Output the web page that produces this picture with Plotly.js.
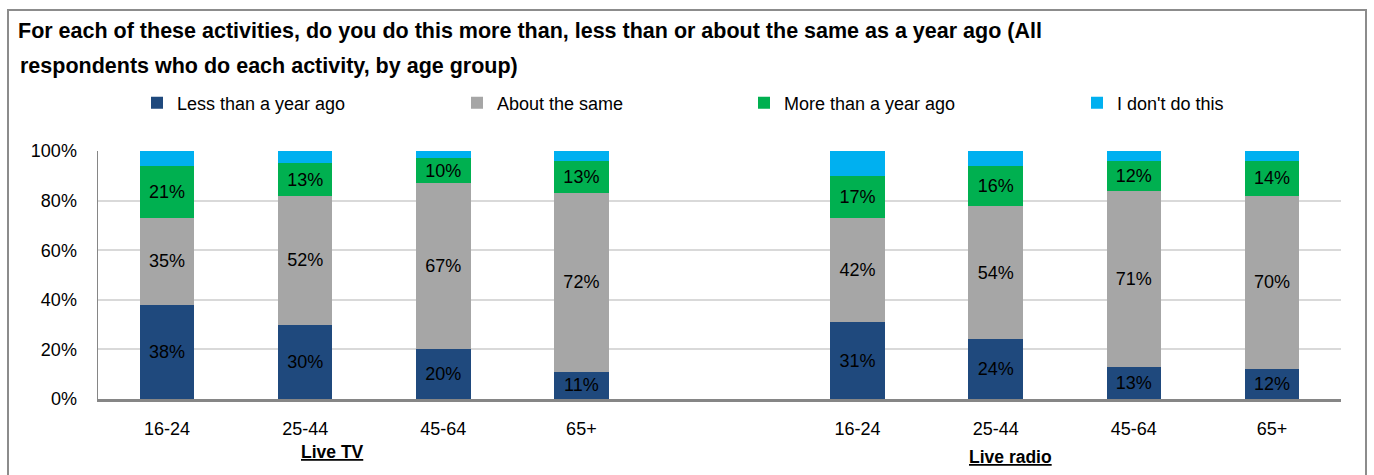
<!DOCTYPE html>
<html>
<head>
<meta charset="utf-8">
<script src="https://cdn.plot.ly/plotly-3.0.1.min.js"></script>
<style>
  html, body { margin: 0; padding: 0; background: #ffffff; }
  #chart { width: 1374px; height: 475px; }
</style>
</head>
<body>
<div id="chart"></div>
<script>
// ---- Data ----
const groups = ["Live TV", "Live radio"];
const ageGroups = ["16-24", "25-44", "45-64", "65+"];
const seriesNames = ["Less than a year ago", "About the same", "More than a year ago", "I don't do this"];
// values in %, order: Live TV (16-24, 25-44, 45-64, 65+), Live radio (16-24, 25-44, 45-64, 65+)
const lessThan   = [38, 30, 20, 11, 31, 24, 13, 12];
const aboutSame  = [35, 52, 67, 72, 42, 54, 71, 70];
const moreThan   = [21, 13, 10, 13, 17, 16, 12, 14];
const dontDoThis = [ 6,  5,  3,  4, 10,  6,  4,  4];
const yTickVals  = [0, 20, 40, 60, 80, 100];

const seriesValues = [lessThan, aboutSame, moreThan, dontDoThis];
const seriesColors = ["#1F497D", "#A6A6A6", "#00B050", "#00B0F0"];
const showLabels = [true, true, true, false];

// slot index: groups separated by one empty slot
const slotsPerGroup = ageGroups.length + 1;
const xPos = [], tickText = [];
groups.forEach((g, gi) => ageGroups.forEach((a, ai) => {
  xPos.push(gi * slotsPerGroup + ai);
  tickText.push(a);
}));

const FONT = "Liberation Sans, Arial, sans-serif";

const traces = seriesNames.map((name, i) => ({
  type: "bar",
  name: name,
  x: xPos,
  y: seriesValues[i],
  marker: { color: seriesColors[i], line: { width: 0 } },
  text: showLabels[i] ? seriesValues[i].map(v => v + "%") : null,
  texttemplate: showLabels[i] ? "%{text}" : "",
  textposition: showLabels[i] ? "inside" : "none",
  insidetextanchor: "middle",
  textangle: 0,
  constraintext: "none",
  textfont: { family: FONT, size: 18, color: "#000000" },
  hoverinfo: "name+y",
  legend: i === 0 ? "legend" : "legend" + (i + 1)
}));

// plot area in pixels: x 98..1341, y 151..399
const W = 1374, H = 475;
const L = 98, R = 1341, T = 151, B = 399;
const pw = R - L, ph = B - T;
const px2x = p => (p - L) / pw;
const px2y = p => (B - p) / ph;

const legendTextStarts = [173, 493, 780, 1113];
const legendCommon = (i) => ({
  orientation: "h",
  x: px2x(legendTextStarts[i] - 36),
  xanchor: "left",
  y: px2y(103),
  yanchor: "middle",
  font: { family: FONT, size: 18, color: "#000000" },
  bgcolor: "rgba(0,0,0,0)",
  borderwidth: 0,
  itemwidth: 30,
  itemclick: false,
  itemdoubleclick: false
});

const layout = {
  width: W,
  height: H,
  margin: { l: L, r: W - R, t: T, b: H - B, pad: 0 },
  paper_bgcolor: "#ffffff",
  plot_bgcolor: "#ffffff",
  font: { family: FONT, size: 18, color: "#000000" },
  barmode: "stack",
  bargap: 0.605,
  title: {
    text: "<b>For each of these activities, do you do this more than, less than or about the same as a year ago (All</b>",
    font: { family: FONT, size: 21.5, color: "#000000" },
    xref: "container", yref: "container",
    x: 18 / W, xanchor: "left",
    y: 1 - 30 / H, yanchor: "middle"
  },
  showlegend: true,
  legend: legendCommon(0),
  legend2: legendCommon(1),
  legend3: legendCommon(2),
  legend4: legendCommon(3),
  xaxis: {
    type: "linear",
    range: [-0.5, groups.length * slotsPerGroup - 1.5],
    tickmode: "array",
    tickvals: xPos,
    ticktext: tickText,
    ticks: "",
    ticklabelstandoff: 12,
    tickfont: { family: FONT, size: 18, color: "#000000" },
    showgrid: false,
    zeroline: false,
    showline: true,
    linecolor: "#868686",
    linewidth: 2.5,
    fixedrange: true
  },
  yaxis: {
    range: [0, 100],
    tickmode: "array",
    tickvals: yTickVals,
    ticktext: yTickVals.map(v => v + "%"),
    ticks: "",
    ticklabelstandoff: 16,
    tickfont: { family: FONT, size: 18, color: "#000000" },
    showgrid: true,
    gridcolor: "#D9D9D9",
    gridwidth: 2,
    zeroline: false,
    showline: true,
    linecolor: "#868686",
    linewidth: 1.5,
    fixedrange: true
  },
  annotations: [
    {
      text: "<b>respondents who do each activity, by age group)</b>",
      xref: "paper", yref: "paper",
      x: px2x(18), xanchor: "left",
      y: px2y(66), yanchor: "middle",
      showarrow: false,
      font: { family: FONT, size: 21.5, color: "#000000" }
    },
    {
      text: "<b><u>" + groups[0] + "</u></b>",
      xref: "paper", yref: "paper",
      x: px2x(332), xanchor: "center",
      y: px2y(452), yanchor: "middle",
      showarrow: false,
      font: { family: FONT, size: 17.5, color: "#000000" }
    },
    {
      text: "<b><u>" + groups[1] + "</u></b>",
      xref: "paper", yref: "paper",
      x: px2x(1010), xanchor: "center",
      y: px2y(457), yanchor: "middle",
      showarrow: false,
      font: { family: FONT, size: 17.5, color: "#000000" }
    }
  ],
  shapes: [
    {
      type: "rect",
      xref: "paper", yref: "paper",
      x0: px2x(8), x1: px2x(1366),
      y0: px2y(490), y1: px2y(10),
      line: { color: "#8C8C8C", width: 2 },
      fillcolor: "rgba(0,0,0,0)",
      layer: "above"
    }
  ]
};

Plotly.newPlot("chart", traces, layout, { displayModeBar: false, staticPlot: true });
</script>
</body>
</html>
